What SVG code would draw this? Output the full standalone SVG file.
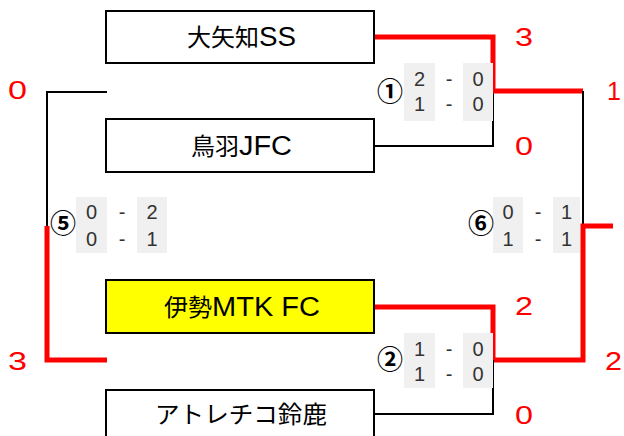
<svg xmlns="http://www.w3.org/2000/svg" width="624" height="436" viewBox="0 0 624 436">
<style>
.box{fill:#fff;stroke:#000;stroke-width:2}
.win{fill:#ffff00}
.name{font-family:"Liberation Sans","Noto Sans CJK JP",sans-serif;font-size:24px;fill:#000}
.lat{font-family:"Liberation Sans",sans-serif;font-size:27px}
.blk{fill:none;stroke:#000;stroke-width:2}
.red{fill:none;stroke:#ff0000;stroke-width:5}
.cell{fill:#f0f0f0}
.sc{font-family:"Liberation Sans","Noto Sans CJK JP",sans-serif;font-size:20px;fill:#333;text-anchor:middle}
.rn{font-family:"Noto Sans CJK JP",sans-serif;font-size:26px;font-weight:bold;fill:#000;text-anchor:middle}
.pt{font-family:"Liberation Sans",sans-serif;font-size:25px;fill:#ff0000}
</style>
<rect width="624" height="436" fill="#fff"/>
<g id="connectors">
  <polyline class="blk" points="107,92 47,92 47,227"/>
  <polyline class="red" points="47,226 47,360 107,360"/>
  <polyline class="blk" points="374,146 493,146 493,91"/>
  <polyline class="red" points="374,37 493,37 493,91 583,91"/>
  <polyline class="blk" points="583,91 583,227"/>
  <polyline class="red" points="374,307 493,307 493,360 583,360 583,226 613,226"/>
  <polyline class="blk" points="374,414 493,414 493,360"/>
</g>
<g id="team1">
  <rect class="box" x="106" y="11" width="268" height="52"/>
  <text class="name" y="46"><tspan x="187">大矢知</tspan><tspan class="lat" x="259" textLength="37" lengthAdjust="spacingAndGlyphs">SS</tspan></text>
</g>
<g id="team2">
  <rect class="box" x="106" y="119" width="268" height="53"/>
  <text class="name" y="155"><tspan x="191">鳥羽</tspan><tspan class="lat" x="239" textLength="53" lengthAdjust="spacingAndGlyphs">JFC</tspan></text>
</g>
<g id="team3">
  <rect class="box win" x="106" y="280" width="268" height="53"/>
  <text class="name" y="316"><tspan x="164">伊勢</tspan><tspan class="lat" x="212" textLength="108" lengthAdjust="spacingAndGlyphs">MTK FC</tspan></text>
</g>
<g id="team4">
  <rect class="box" x="106" y="390" width="268" height="60"/>
  <text class="name" x="155" y="423" textLength="172" lengthAdjust="spacingAndGlyphs">アトレチコ鈴鹿</text>
</g>
<g id="match1">
  <rect class="cell" x="404" y="63" width="31" height="58"/>
  <rect class="cell" x="463" y="63" width="30" height="58"/>
  <text class="rn" x="390" y="101">①</text>
  <text class="sc" x="419.5" y="86">2</text><text class="sc" x="449" y="86">-</text><text class="sc" x="478" y="86">0</text>
  <text class="sc" x="419.5" y="111">1</text><text class="sc" x="449" y="111">-</text><text class="sc" x="478" y="111">0</text>
</g>
<g id="match2">
  <rect class="cell" x="404" y="333" width="31" height="55"/>
  <rect class="cell" x="463" y="333" width="30" height="55"/>
  <text class="rn" x="390" y="369">②</text>
  <text class="sc" x="419.5" y="356">1</text><text class="sc" x="449" y="356">-</text><text class="sc" x="478" y="356">0</text>
  <text class="sc" x="419.5" y="381">1</text><text class="sc" x="449" y="381">-</text><text class="sc" x="478" y="381">0</text>
</g>
<g id="match5">
  <rect class="cell" x="76" y="197" width="31" height="56"/>
  <rect class="cell" x="137" y="197" width="30" height="56"/>
  <text class="rn" x="63" y="233">⑤</text>
  <text class="sc" x="91.5" y="219">0</text><text class="sc" x="122" y="219">-</text><text class="sc" x="152" y="219">2</text>
  <text class="sc" x="91.5" y="246">0</text><text class="sc" x="122" y="246">-</text><text class="sc" x="152" y="246">1</text>
</g>
<g id="match6">
  <rect class="cell" x="493" y="197" width="30" height="56"/>
  <rect class="cell" x="553" y="197" width="27" height="56"/>
  <text class="rn" x="481" y="233">⑥</text>
  <text class="sc" x="508" y="219">0</text><text class="sc" x="538" y="219">-</text><text class="sc" x="566.5" y="219">1</text>
  <text class="sc" x="508" y="246">1</text><text class="sc" x="538" y="246">-</text><text class="sc" x="566.5" y="246">1</text>
</g>
<g id="points">
  <text class="pt" x="515" y="46" textLength="18" lengthAdjust="spacingAndGlyphs">3</text>
  <text class="pt" x="515" y="155" textLength="18" lengthAdjust="spacingAndGlyphs">0</text>
  <text class="pt" x="607" y="100">1</text>
  <text class="pt" x="8" y="99" textLength="19" lengthAdjust="spacingAndGlyphs">0</text>
  <text class="pt" x="8" y="370" textLength="19" lengthAdjust="spacingAndGlyphs">3</text>
  <text class="pt" x="515" y="315" textLength="18" lengthAdjust="spacingAndGlyphs">2</text>
  <text class="pt" x="605" y="370" textLength="17" lengthAdjust="spacingAndGlyphs">2</text>
  <text class="pt" x="515" y="424" textLength="18" lengthAdjust="spacingAndGlyphs">0</text>
</g>
</svg>
